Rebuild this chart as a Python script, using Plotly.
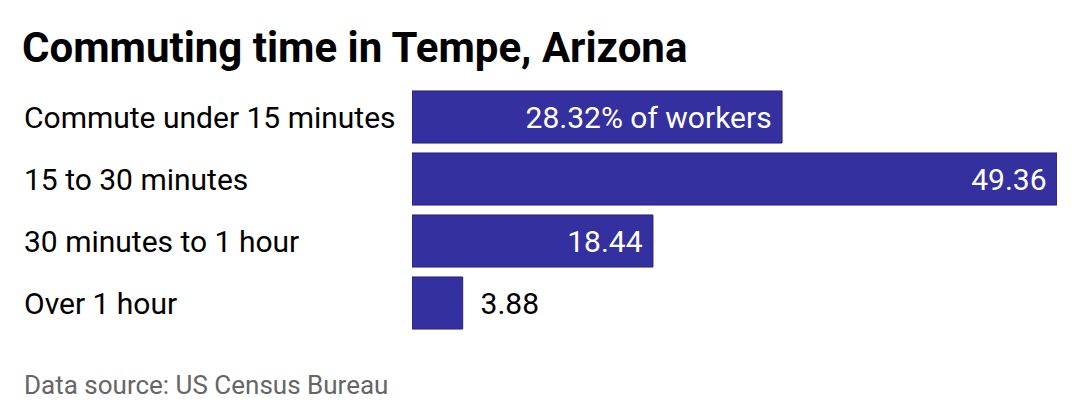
import plotly.graph_objects as go

categories = ["Commute under 15 minutes", "15 to 30 minutes", "30 minutes to 1 hour", "Over 1 hour"]
values = [28.32, 49.36, 18.44, 3.88]
labels = ["28.32% of workers ", "49.36 ", "18.44 ", "  3.88"]

W, H = 1080, 420
off = 8
L, R, T, B = 412 - off, 23 + off, 86 - off, 86 + off
pw = W - L - R
ph = H - T - B

fig = go.Figure(go.Bar(
    y=categories, x=values, orientation="h",
    marker=dict(color="#3430a0", line=dict(color="#27237f", width=1)),
    text=labels,
    textposition=["inside", "inside", "inside", "outside"],
    insidetextanchor="end",
    textfont=dict(family="Roboto", size=30, color=["white", "white", "white", "black"]),
    cliponaxis=False,
))
fig.update_layout(
    width=W, height=H, margin=dict(l=L, r=R, t=T, b=B),
    paper_bgcolor="white", plot_bgcolor="white", bargap=0.16,
    showlegend=False,
    xaxis=dict(range=[0, max(values)], visible=False, fixedrange=True),
    yaxis=dict(autorange="reversed", showticklabels=False, showgrid=False, zeroline=False),
    font=dict(family="Roboto"),
)
for c in categories:
    fig.add_annotation(xref="paper", yref="y", x=-(L - 22 + off) / pw, y=c, text=c,
                       xanchor="left", showarrow=False,
                       font=dict(family="Roboto", size=30, color="black"))
fig.add_annotation(xref="paper", yref="paper", x=-(L - 20 + off) / pw, y=1 + (T - 47 + off) / ph,
                   text="<b>Commuting time in Tempe, Arizona</b>", xanchor="left", yanchor="middle",
                   showarrow=False, font=dict(family="Roboto", size=42, color="black"))
fig.add_annotation(xref="paper", yref="paper", x=-(L - 22 + off) / pw, y=-(385 - off - (H - B)) / ph,
                   text="Data source: US Census Bureau", xanchor="left", yanchor="middle",
                   showarrow=False, font=dict(family="Roboto", size=26, color="#666"))
fig.write_html("out.html")
